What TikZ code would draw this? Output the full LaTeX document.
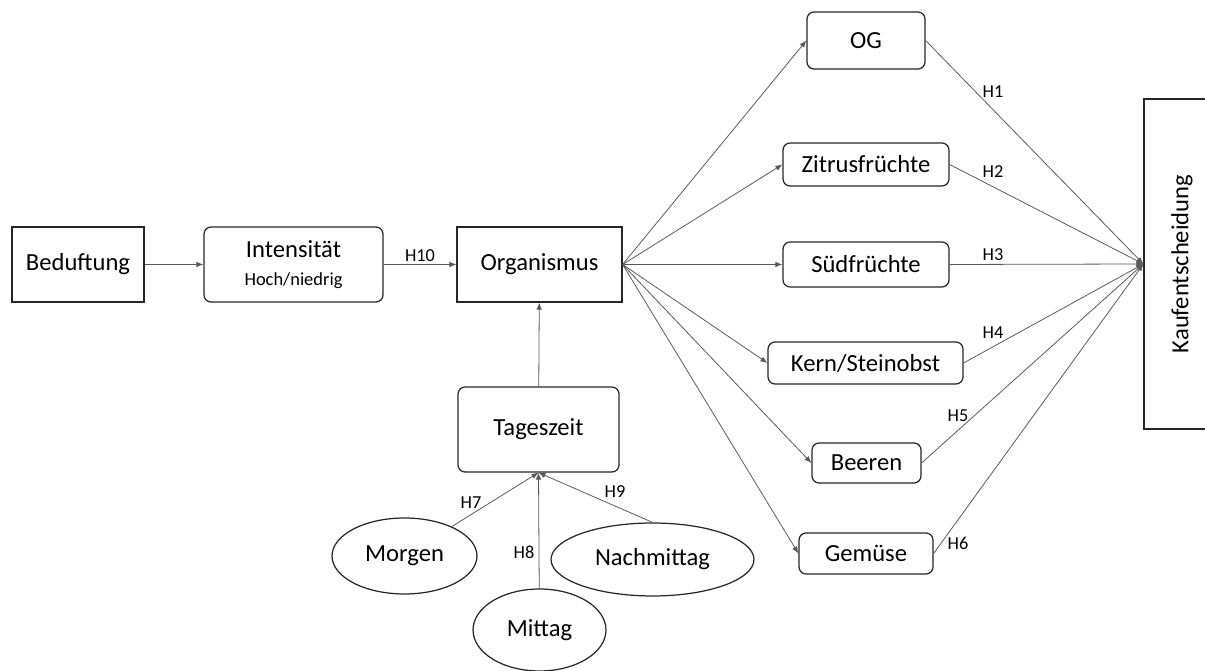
\documentclass[tikz,border=0pt]{standalone}
\usepackage{fontspec}
\setmainfont{Carlito}
\usetikzlibrary{arrows.meta,positioning,shapes.geometric}

\begin{document}
\begin{tikzpicture}[
 x=0.02cm,y=-0.02cm,
 box/.style={draw=black!85,line width=0.7pt,inner sep=0pt,
 font=\fontsize{14}{16.8}\selectfont},
 rbox/.style={box,rounded corners=4pt},
 oval/.style={box,ellipse},
 lbl/.style={font=\fontsize{10.4}{12}\selectfont,inner sep=1pt},
 arr/.style={-{Latex[length=1.4mm,width=1.1mm]},draw=black!65,line width=0.45pt}]
\useasboundingbox (0,0) rectangle (1205,671);
% left row
\node[box,minimum width=2.64cm,minimum height=1.5cm] (bed) at (78,264.5) {Beduftung};
\node[rbox,align=center,minimum width=3.58cm,minimum height=1.5cm] (int) at (293.5,264.5)
 {Intensität\\[-1pt]{\fontsize{10.5}{12}\selectfont Hoch/niedrig}};
\node[box,minimum width=3.3cm,minimum height=1.5cm] (org) at (539.5,264.5) {Organismus};
% time of day
\node[rbox,minimum width=3.22cm,minimum height=1.7cm] (tz) at (538.5,429.5) {Tageszeit};
\node[oval,minimum width=2.9cm,minimum height=1.52cm] (mor) at (404.5,556) {Morgen};
\node[oval,minimum width=2.66cm,minimum height=1.64cm] (mit) at (539.5,630) {Mittag};
\node[oval,minimum width=4.06cm,minimum height=1.46cm] (nach) at (652.5,559.5) {Nachmittag};
% product groups
\node[rbox,minimum width=2.36cm,minimum height=1.14cm] (og) at (866,40.5) {OG};
\node[rbox,minimum width=3.32cm,minimum height=0.86cm] (zit) at (866,164.5) {Zitrusfrüchte};
\node[rbox,minimum width=3.32cm,minimum height=0.9cm] (sued) at (866,264.5) {Südfrüchte};
\node[rbox,minimum width=3.9cm,minimum height=0.84cm] (kern) at (865.5,363) {Kern/Steinobst};
\node[rbox,minimum width=2.18cm,minimum height=0.8cm] (beer) at (866.5,463) {Beeren};
\node[rbox,minimum width=2.68cm,minimum height=0.82cm] (gem) at (866,553.5) {Gemüse};
\node[box,minimum width=1.52cm,minimum height=6.6cm] (kauf) at (1182,264) {\rotatebox{90}{Kaufentscheidung}};
% connectors
\draw[arr] (bed)--(int);
\draw[arr] (int)--(org);
\draw[arr] (tz)--(org);
\foreach \n in {og,zit,sued,kern,beer,gem}{
 \draw[arr] (org.east)--(\n.west);
 \draw[arr] (\n.east)--(kauf.west);
}
\draw[arr] (mor)--(tz.south);
\draw[arr] (mit)--(tz.south);
\draw[arr] (nach.north)--(tz.south);
% hypotheses
\foreach \i/\x/\y in {1/993/92,2/993/172,3/993/255,4/993/333,5/958/416,
 6/958/543,7/471/503,8/524/552,9/615/492,10/420/256}
 \node[lbl] (h\i) at (\x,\y) {H\i};
\end{tikzpicture}
\end{document}
